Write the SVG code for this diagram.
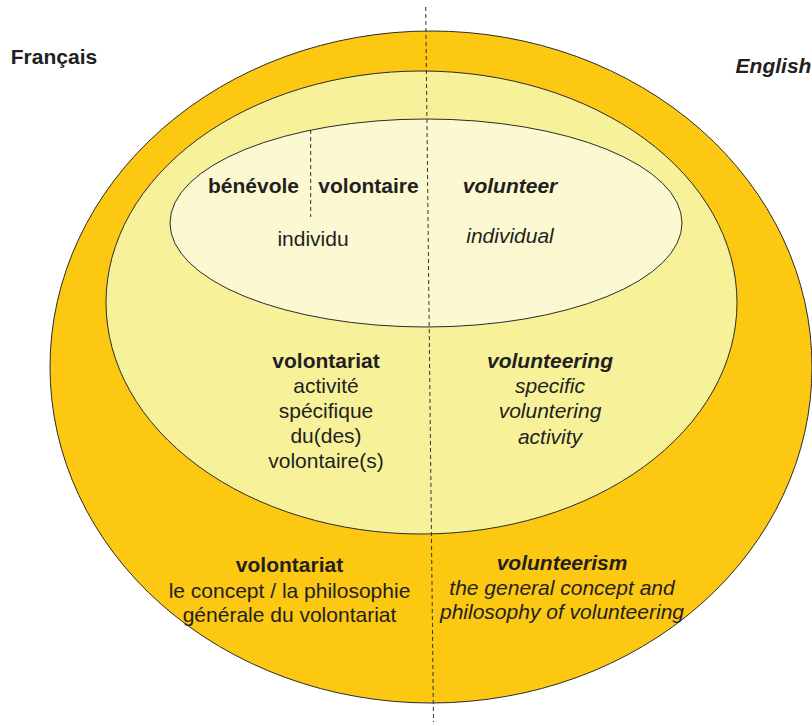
<svg xmlns="http://www.w3.org/2000/svg" width="812" height="726" viewBox="0 0 812 726">
<style>
.ring{stroke:#2b2b2b;stroke-width:1}
.t{font-family:"Liberation Sans",Arial,sans-serif;font-size:21px;fill:#231F20;text-anchor:middle}
.b{font-weight:bold}
.i{font-style:italic}
.dash{stroke:#333;stroke-width:1;stroke-dasharray:4 3;fill:none}
</style>
<rect width="812" height="726" fill="#fff"/>
<g id="outer">
<ellipse class="ring" cx="431" cy="367" rx="381" ry="336" fill="#FCC812"/>
</g>
<g id="middle">
<ellipse class="ring" cx="421.5" cy="302.5" rx="315.5" ry="231.5" fill="#F7F29A"/>
</g>
<g id="inner">
<ellipse class="ring" cx="426" cy="223" rx="256" ry="104" fill="#FCF9D2"/>
</g>
<g id="dividers">
<line class="dash" x1="425.7" y1="7" x2="433.5" y2="722"/>
<line class="dash" x1="310.7" y1="130" x2="310.7" y2="217"/>
</g>
<g id="labels-titles">
<text class="t b" x="54" y="63.5">Français</text>
<text class="t b i" x="773.5" y="72.7">English</text>
</g>
<g id="inner-text">
<text class="t b" x="253.5" y="193.3">bénévole</text>
<text class="t b" x="368.5" y="193.3">volontaire</text>
<text class="t" x="313" y="246">individu</text>
<text class="t b i" x="510" y="192.5">volunteer</text>
<text class="t i" x="510" y="243">individual</text>
</g>
<g id="middle-text">
<text class="t b" x="326" y="367.5">volontariat</text>
<text class="t" x="326" y="392.7">activité</text>
<text class="t" x="326" y="417.9">spécifique</text>
<text class="t" x="326" y="443.1">du(des)</text>
<text class="t" x="326" y="468.3">volontaire(s)</text>
<text class="t b i" x="550" y="368">volunteering</text>
<text class="t i" x="550" y="393.2">specific</text>
<text class="t i" x="550" y="418.4">voluntering</text>
<text class="t i" x="550" y="443.6">activity</text>
</g>
<g id="outer-text">
<text class="t b" x="289.5" y="571.5">volontariat</text>
<text class="t" x="289.5" y="598">le concept / la philosophie</text>
<text class="t" x="289.5" y="622">générale du volontariat</text>
<text class="t b i" x="562" y="569.5">volunteerism</text>
<text class="t i" x="562" y="595">the general concept and</text>
<text class="t i" x="562" y="619">philosophy of volunteering</text>
</g>
</svg>
